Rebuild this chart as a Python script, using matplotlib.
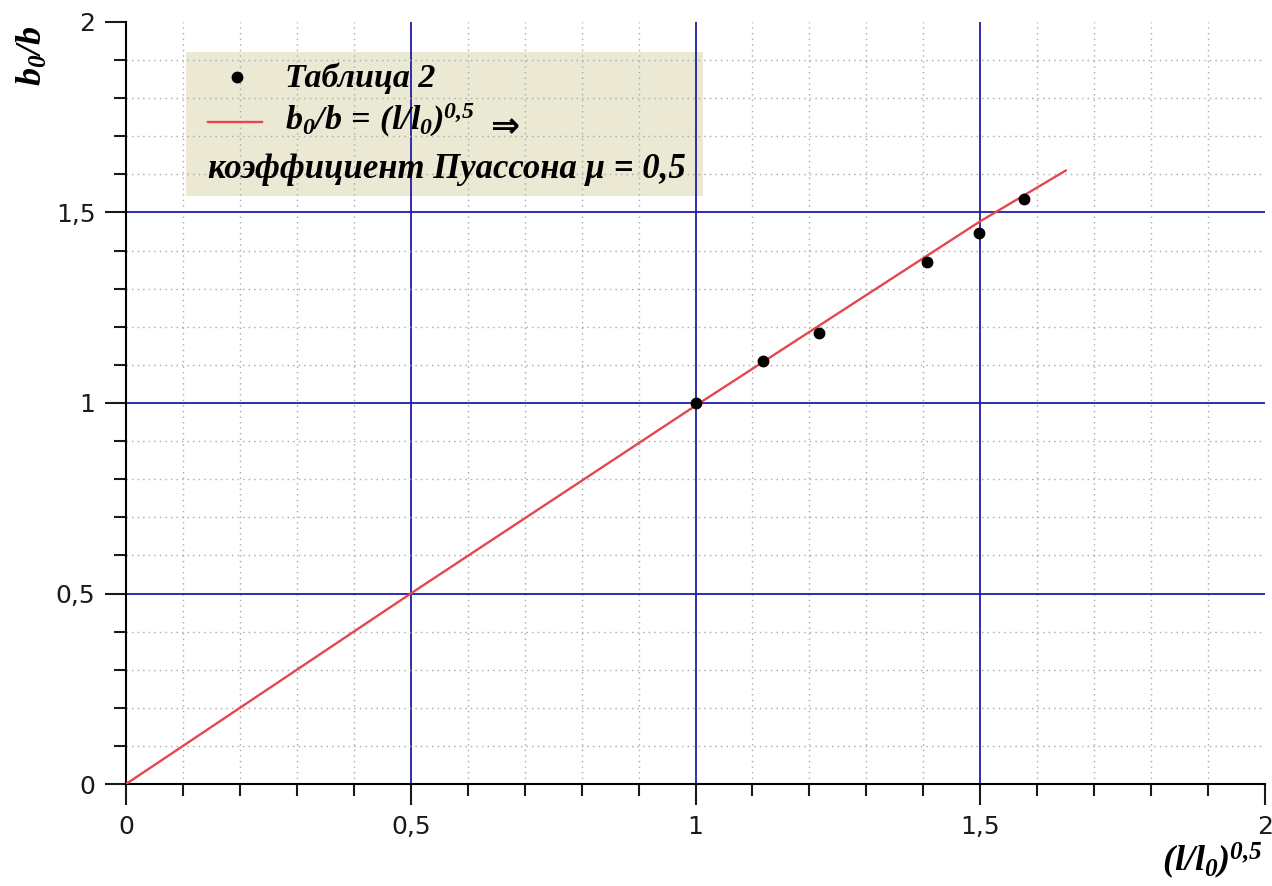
import numpy as np
import matplotlib
matplotlib.use('Agg')
import matplotlib.pyplot as plt
from matplotlib.ticker import MultipleLocator, FuncFormatter
from matplotlib.patches import Rectangle

# data
x_pts = [1.0, 1.118, 1.217, 1.407, 1.498, 1.577]
y_pts = [1.0, 1.11, 1.185, 1.37, 1.445, 1.535]
x_fit = [0.0, 0.5, 1.0, 1.5, 1.65]
y_fit = [0.0, 0.5, 0.993, 1.477, 1.61]

label_pts = 'Таблица 2'
label_fit = r'$b_0/b\,=\,(l/l_0)^{0{,}5}$'
label_mu = 'коэффициент Пуассона μ = 0,5'

plt.rcParams['mathtext.fontset'] = 'custom'
plt.rcParams['mathtext.rm'] = 'Liberation Serif:bold:italic'
plt.rcParams['mathtext.it'] = 'Liberation Serif:bold:italic'
plt.rcParams['mathtext.bf'] = 'Liberation Serif:bold:italic'

blue = '#1e1ea6'
red = '#e4484b'

fig = plt.figure(figsize=(12.72, 8.86), dpi=100)
ax = fig.add_axes([0.0991, 0.1151, 0.8954, 0.8601])

ax.set_xlim(0, 2)
ax.set_ylim(0, 2)
ax.xaxis.set_major_locator(MultipleLocator(0.5))
ax.yaxis.set_major_locator(MultipleLocator(0.5))
ax.xaxis.set_minor_locator(MultipleLocator(0.1))
ax.yaxis.set_minor_locator(MultipleLocator(0.1))
fmt = FuncFormatter(lambda v, p: ('%g' % v).replace('.', ','))
ax.xaxis.set_major_formatter(fmt)
ax.yaxis.set_major_formatter(fmt)

ax.grid(which='major', color=blue, linewidth=1.3, zorder=1)
ax.grid(which='minor', color='#a8a8a8', linewidth=1.0, linestyle=(0, (1, 3)), zorder=1)
ax.set_axisbelow(True)

for s in ['top', 'right']:
    ax.spines[s].set_visible(False)
for s in ['left', 'bottom']:
    ax.spines[s].set_linewidth(1.5)

ax.tick_params(which='major', length=15, width=1.5, labelsize=18, pad=7, colors='#1a1a1a')
ax.tick_params(which='minor', length=8.5, width=1.5, colors='#1a1a1a')

# no grid line along the top and right edges
fig.canvas.draw()
for axis in [ax.xaxis, ax.yaxis]:
    for t in axis.get_major_ticks():
        if abs(t.get_loc() - 2) < 1e-9:
            t.gridline.set_visible(False)

# legend box (grid shows through it)
ax.add_patch(Rectangle((0.0527, 0.7717), 0.4539, 0.1889, transform=ax.transAxes,
                       facecolor='#ebe9d4', edgecolor='none', zorder=0))

ax.plot(x_fit, y_fit, color=red, linewidth=1.7, zorder=3)
ax.plot(x_pts, y_pts, 'o', color='black', markersize=7.5, zorder=4)

# legend contents
tf = dict(family=['Liberation Serif', 'DejaVu Serif'], weight='bold', style='italic', fontsize=24.5)
ax.plot([0.0975], [0.928], 'o', color='black', markersize=7.5, transform=ax.transAxes, clip_on=False)
ax.text(0.1396, 0.926, label_pts, transform=ax.transAxes, va='center', ha='left', **tf)
ax.plot([0.072, 0.1194], [0.8688, 0.8688], color=red, linewidth=1.7, transform=ax.transAxes)
ax.text(0.1396, 0.871, label_fit, transform=ax.transAxes, va='center', ha='left', **tf)
ax.text(0.3196, 0.862, '⇒', transform=ax.transAxes, va='center', ha='left',
        family='DejaVu Sans', weight='bold', fontsize=25)
ax.text(0.072, 0.806, label_mu, transform=ax.transAxes, va='center', ha='left',
        **dict(tf, fontsize=25))

# axis titles
fig.text(0.025, 0.937, r'$b_0/b$', rotation=90, ha='center', va='center', fontsize=26)
fig.text(0.993, 0.028, r'$(l/l_0)^{0{,}5}$', ha='right', va='center', fontsize=26)

plt.savefig('out.png', dpi=100)
